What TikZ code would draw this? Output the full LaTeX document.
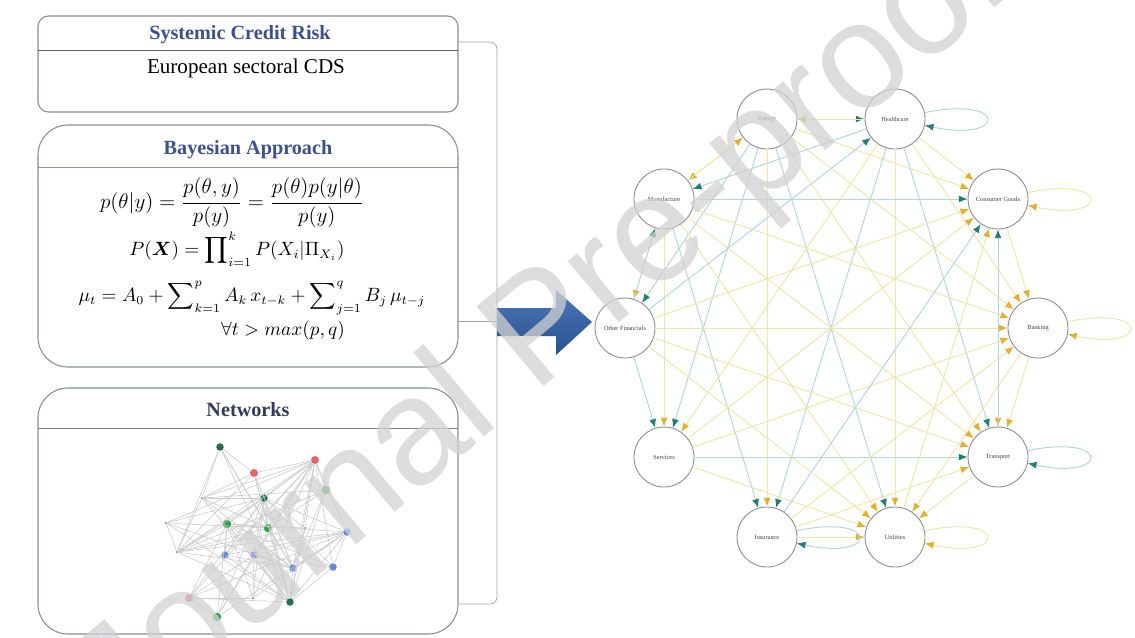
\documentclass[tikz,border=0pt]{standalone}
\usepackage{amsmath,amssymb}
\usepackage{fontspec}
\setmainfont{Liberation Serif}
\newfontfamily\wmfont{Liberation Sans}
\usetikzlibrary{arrows.meta,positioning,calc}
\definecolor{titlecolor}{RGB}{62,80,140}
\definecolor{netcolor}{RGB}{50,60,90}
\definecolor{framecolor}{RGB}{135,138,155}
\definecolor{rulecolor}{RGB}{120,150,195}
\definecolor{arrowblue}{RGB}{47,95,170}
\definecolor{yline}{RGB}{238,230,172}
\definecolor{tline}{RGB}{178,214,225}
\definecolor{ytip}{RGB}{222,178,48}
\definecolor{ttip}{RGB}{32,128,118}
\definecolor{dotgreen}{RGB}{45,165,75}
\definecolor{dotdark}{RGB}{40,110,75}
\definecolor{dotred}{RGB}{228,100,105}
\definecolor{dotblue}{RGB}{105,135,215}

\tikzset{
  panel/.style={draw=framecolor, line width=0.6pt},
  paneltitle/.style={font=\fontsize{11.5}{13}\selectfont\bfseries, text=titlecolor},
  eqn/.style={font=\fontsize{10.5}{12}\selectfont},
  sector/.style={circle, draw=black!45, fill=white, line width=0.5pt, minimum size=1.2cm,
    inner sep=0pt, font=\fontsize{3.6}{4}\selectfont, text=black!75},
  yedge/.style={draw=yline, line width=0.55pt, -{Latex[length=5pt,width=4pt,color=ytip]}},
  tedge/.style={draw=tline, line width=0.55pt, -{Latex[length=5pt,width=4pt,color=ttip]}},
  netline/.style={draw=black!20, line width=0.35pt},
  gdot/.style={circle, inner sep=0pt, minimum size=0.17cm, fill=dotgreen},
  ddot/.style={circle, inner sep=0pt, minimum size=0.15cm, fill=dotdark},
  rdot/.style={circle, inner sep=0pt, minimum size=0.16cm, fill=dotred},
  bdot/.style={circle, inner sep=0pt, minimum size=0.15cm, fill=dotblue},
  mdot/.style={circle, inner sep=0pt, minimum size=0.06cm, fill=black!35},
}

\begin{document}
\begin{tikzpicture}[x=0.02cm, y=-0.02cm]
  \useasboundingbox (0,0) rectangle (1135,637);

  % panel: systemic credit risk
  \draw[panel, rounded corners=6pt] (38,16) rectangle (458,112);
  \draw[black!60] (38,50) -- (458,50);
  \node[paneltitle] (risktitle) at (240,35) {Systemic Credit Risk};
  \node[font=\fontsize{12}{14}\selectfont] (risktext) at (246,68) {European sectoral CDS};

  % panel: bayesian approach
  \draw[panel, rounded corners=17pt] (38,125) rectangle (458,367);
  \draw[rulecolor] (38,167) -- (458,167);
  \node[paneltitle] (bayestitle) at (248,150) {Bayesian Approach};
  \node[eqn, font=\fontsize{11.6}{13}\selectfont] (eqbayes) at (232,203)
    {$p(\theta|y)=\dfrac{p(\theta,y)}{p(y)}=\dfrac{p(\theta)p(y|\theta)}{p(y)}$};
  \node[eqn] (eqprod) at (237,249)
    {$P(\boldsymbol{X}) = \displaystyle\prod\nolimits_{i=1}^{k} P(X_i|\Pi_{X_i})$};
  \node[eqn] (eqvarma) at (252,298)
    {$\mu_t = A_0 + \displaystyle\sum\nolimits_{k=1}^{p} A_k\, x_{t-k} + \sum\nolimits_{j=1}^{q} B_j\, \mu_{t-j}$};
  \node[eqn] (eqcond) at (283,331) {$\forall t > max(p,q)$};

  % panel: networks
  \draw[panel, rounded corners=17pt] (38,388) rectangle (458,634);
  \draw[black!50] (38,428) -- (458,428);
  \node[paneltitle, text=netcolor] (nettitle) at (248,410) {Networks};

  % small example network
  \foreach \n/\x/\y/\s in {1/220/447/ddot, 2/315/460/rdot, 3/254/473/rdot, 4/326/490/gdot,
      5/264/498/ddot, 6/202/498/mdot, 7/166/523/mdot, 8/227/524/gdot, 9/268/528/gdot,
      10/305/528/mdot, 11/347/532/bdot, 12/177/552/mdot, 13/225/555/bdot, 14/254/555/bdot,
      15/293/568/bdot, 16/333/567/bdot, 17/189/598/rdot, 18/290/602/ddot, 19/217/617/gdot,
      20/253/598/mdot}
    \node[\s] (d\n) at (\x,\y) {};
  \foreach \i in {1,...,19} {
    \pgfmathtruncatemacro{\jstart}{\i+1}
    \foreach \j in {\jstart,...,20} {
      \pgfmathtruncatemacro{\r}{mod(\i*\j+\j,3)}
      \ifnum\r=0 \draw[netline] (d\i) -- (d\j); \fi
    }
  }

  % bracket and block arrow
  \draw[framecolor!80, rounded corners=4pt] (458,42) -- (497,42) -- (497,604) -- (458,604);
  \draw[framecolor!80] (458,321) -- (497,321);
  \shade[top color=arrowblue!85!white, bottom color=arrowblue!85!black]
    (497,308) -- (556,308) -- (556,290) -- (592,322) -- (556,355) -- (556,336) -- (497,336) -- cycle;

  % sector network
  \node[sector] (en) at (767,119) {Energy};
  \node[sector] (hc) at (895,119) {Healthcare};
  \node[sector] (cg) at (998,199) {Consumer Goods};
  \node[sector] (bk) at (1038,328) {Banking};
  \node[sector] (tr) at (998,457) {Transport};
  \node[sector] (ut) at (895,537) {Utilities};
  \node[sector] (ins) at (767,537) {Insurance};
  \node[sector] (sv) at (664,457) {Services};
  \node[sector] (of) at (625,328) {Other Financials};
  \node[sector] (mf) at (664,199) {Manufacture};

  \foreach \a/\b/\k in {en/hc/tedge, hc/en/yedge, en/mf/yedge, mf/en/yedge, en/cg/yedge,
      en/bk/yedge, en/tr/yedge, en/ut/tedge, en/ins/yedge, en/sv/tedge, en/of/tedge,
      hc/cg/yedge, hc/bk/yedge, hc/tr/tedge, hc/ut/yedge, hc/ins/tedge, hc/sv/yedge, hc/mf/tedge,
      mf/cg/tedge, mf/bk/yedge, mf/tr/yedge, mf/ut/yedge, mf/ins/tedge, mf/of/yedge, mf/sv/yedge,
      of/sv/tedge, of/cg/yedge, of/bk/yedge, of/tr/yedge, of/ut/yedge, of/hc/tedge, of/mf/tedge,
      sv/tr/tedge, sv/ut/yedge, sv/cg/yedge, sv/bk/yedge,
      ins/ut/yedge, ins/tr/yedge, ins/cg/tedge, ins/bk/yedge,
      cg/bk/yedge, bk/tr/yedge, tr/ut/yedge, cg/tr/yedge, bk/ut/yedge, ut/cg/yedge, tr/cg/tedge}
    \draw[\k] (\a) -- (\b);

  % self loops
  \foreach \s/\k in {hc/tedge, cg/yedge, bk/yedge, tr/tedge, ut/yedge, ins/tedge}
    \draw[\k] (\s.12) to[out=12, in=-12, min distance=1.7cm] (\s.-12);

  % watermark
  \begin{scope}
    \clip (0,0) rectangle (1135,637);
    \node[rotate=40, text=black!18, text opacity=0.75,
      font=\wmfont\fontsize{86}{86}\selectfont] (watermark) at (545,335) {Journal Pre-proof};
  \end{scope}
\end{tikzpicture}
\end{document}
